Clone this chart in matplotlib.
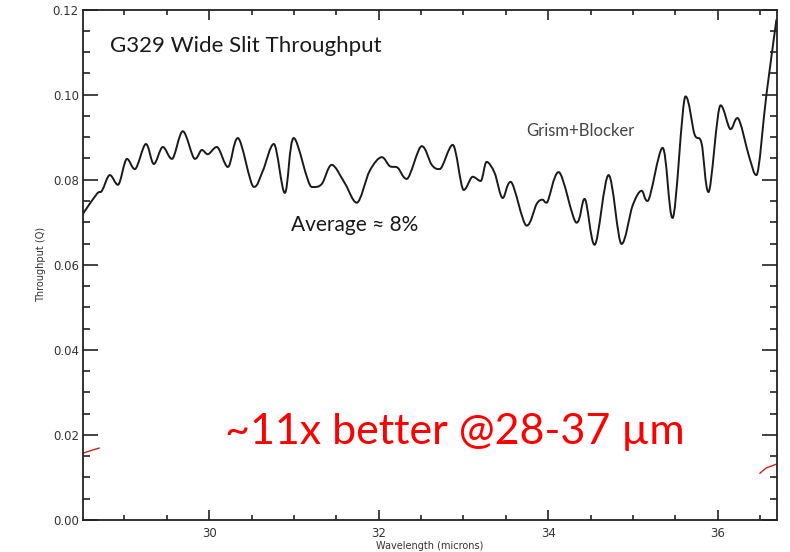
import numpy as np
import matplotlib
matplotlib.use("Agg")
import matplotlib.pyplot as plt
from matplotlib.path import Path
from matplotlib.patches import PathPatch
from matplotlib.ticker import MultipleLocator, FormatStrFormatter

# Grism+Blocker throughput (wavelength in microns)
wavelength = [
    28.510, 28.675, 28.734, 28.828, 28.923, 29.029, 29.123, 29.253, 29.347, 29.453,
    29.560, 29.689, 29.831, 29.913, 29.984, 30.090, 30.220, 30.338, 30.527, 30.633,
    30.762, 30.892, 30.998, 31.210, 31.328, 31.446, 31.600, 31.741, 31.894, 32.036,
    32.130, 32.225, 32.331, 32.508, 32.626, 32.720, 32.873, 33.003, 33.109, 33.203,
    33.274, 33.368, 33.463, 33.557, 33.746, 33.864, 33.934, 33.982, 34.123, 34.335,
    34.430, 34.548, 34.713, 34.866, 34.996, 35.102, 35.173, 35.350, 35.468, 35.621,
    35.727, 35.810, 35.892, 36.034, 36.152, 36.234, 36.376, 36.458, 36.576, 36.694,
]
throughput = [
    0.0720, 0.0767, 0.0774, 0.0811, 0.0788, 0.0849, 0.0825, 0.0884, 0.0837, 0.0877,
    0.0849, 0.0914, 0.0849, 0.0870, 0.0860, 0.0877, 0.0830, 0.0898, 0.0783, 0.0821,
    0.0884, 0.0769, 0.0898, 0.0783, 0.0790, 0.0835, 0.0792, 0.0746, 0.0821, 0.0853,
    0.0832, 0.0828, 0.0802, 0.0879, 0.0835, 0.0825, 0.0882, 0.0776, 0.0807, 0.0797,
    0.0842, 0.0816, 0.0757, 0.0795, 0.0692, 0.0743, 0.0753, 0.0746, 0.0818, 0.0699,
    0.0755, 0.0647, 0.0811, 0.0649, 0.0739, 0.0774, 0.0750, 0.0875, 0.0710, 0.0996,
    0.0907, 0.0886, 0.0771, 0.0975, 0.0919, 0.0945, 0.0851, 0.0811, 0.1001, 0.1177,
]

# old throughput, only visible at the two edges (red)
old_left_wl = [28.51, 28.60, 28.70]
old_left_tp = [0.0157, 0.0163, 0.0169]
old_right_wl = [36.50, 36.57, 36.69]
old_right_tp = [0.0110, 0.0122, 0.0131]

xlim = (28.51, 36.70)
ylim = (0.0, 0.12)


def smooth_path(x, y):
    # cubic bezier through every point (flat tangent at local extrema)
    x = np.asarray(x, float)
    y = np.asarray(y, float)
    n = len(x)
    tx = np.gradient(x)
    ty = np.zeros(n)
    for i in range(n):
        lo, hi = max(i - 1, 0), min(i + 1, n - 1)
        if 0 < i < n - 1 and (y[i] - y[lo]) * (y[hi] - y[i]) <= 0:
            ty[i] = 0.0
        else:
            ty[i] = (y[hi] - y[lo]) / (hi - lo)
    verts = [(x[0], y[0])]
    codes = [Path.MOVETO]
    for i in range(n - 1):
        verts += [(x[i] + tx[i] / 3, y[i] + ty[i] / 3),
                  (x[i + 1] - tx[i + 1] / 3, y[i + 1] - ty[i + 1] / 3),
                  (x[i + 1], y[i + 1])]
        codes += [Path.CURVE4] * 3
    return Path(verts, codes)


fig = plt.figure(figsize=(7.9, 5.52), dpi=100)
ax = fig.add_axes([0.105, 0.058, 0.8785, 0.9246])

ax.add_patch(PathPatch(smooth_path(wavelength, throughput), fill=False,
                       edgecolor="#1a1a1a", lw=1.4, joinstyle="round", clip_on=True))
ax.plot(old_left_wl, old_left_tp, color="#cc2222", lw=1.0)
ax.plot(old_right_wl, old_right_tp, color="#cc2222", lw=1.0)

ax.set_xlim(*xlim)
ax.set_ylim(*ylim)
ax.xaxis.set_major_locator(MultipleLocator(2))
ax.xaxis.set_minor_locator(MultipleLocator(0.5))
ax.yaxis.set_major_locator(MultipleLocator(0.02))
ax.yaxis.set_minor_locator(MultipleLocator(0.005))
ax.yaxis.set_major_formatter(FormatStrFormatter("%.2f"))
ax.xaxis.set_major_formatter(FormatStrFormatter("%d"))

ax.tick_params(axis="both", which="both", direction="in", top=True, right=True,
               width=1.2, colors="#222222", labelsize=8.5, labelcolor="#333333")
ax.tick_params(axis="y", which="major", length=10.5, pad=3)
ax.tick_params(axis="y", which="minor", length=5)
ax.tick_params(axis="x", which="major", length=7, pad=5)
ax.tick_params(axis="x", which="minor", length=3.5)
for sp in ax.spines.values():
    sp.set_linewidth(1.3)
    sp.set_color("#222222")

ax.set_ylabel("Throughput (Q)", fontsize=7, color="#333333", labelpad=5)
ax.set_xlabel("Wavelength (microns)", fontsize=7, color="#333333", labelpad=0.5)

font = ["Lato", "DejaVu Sans"]
fig.text(110 / 790, 1 - 46 / 552, "G329 Wide Slit Throughput", fontsize=16,
         family=font, color="#1a1a1a", va="center", ha="left")
fig.text(580 / 790, 1 - 131 / 552, "Grism+Blocker", fontsize=12,
         family=font, color="#444444", va="center", ha="center")
fig.text(355 / 790, 1 - 225 / 552, "Average \u2248 8%", fontsize=15,
         family=font, color="#1a1a1a", va="center", ha="center")
fig.text(455 / 790, 1 - 432 / 552, "~11x better @28-37 \u00b5m", fontsize=31,
         family=font, color="#ff0000", va="center", ha="center")

fig.savefig("out.png", dpi=100)
